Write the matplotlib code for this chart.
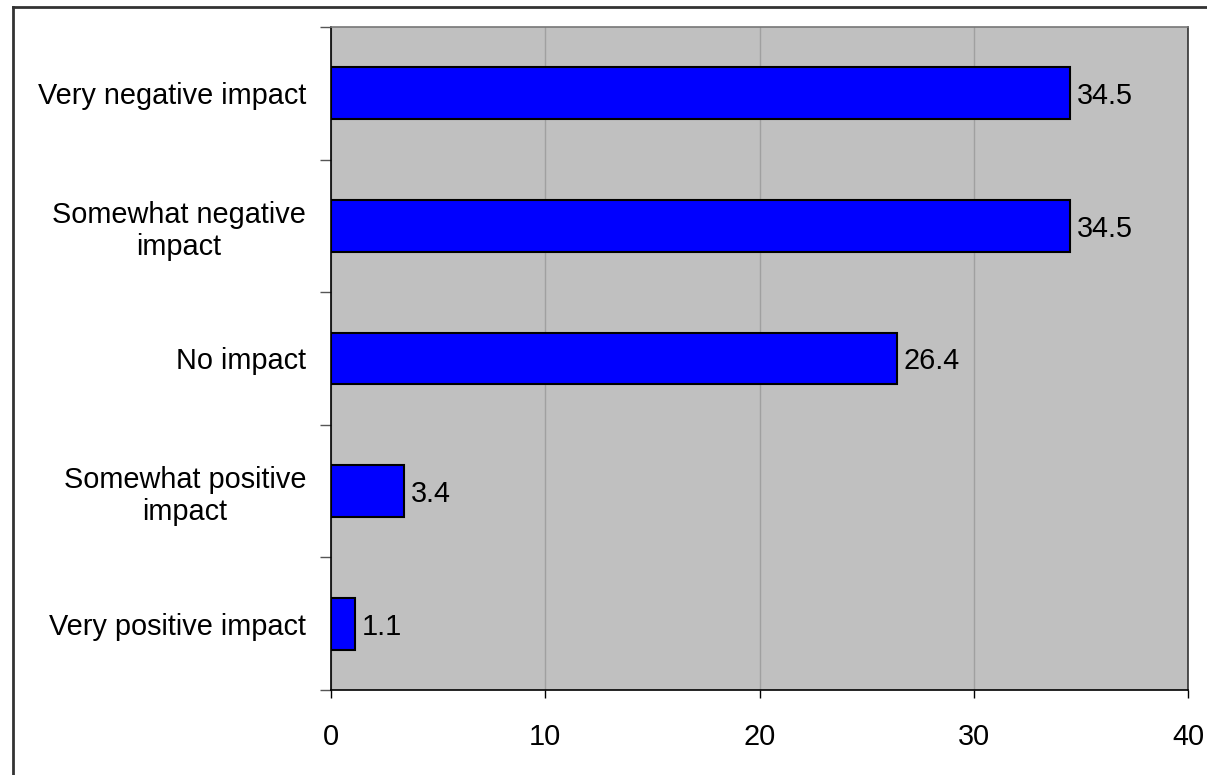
import numpy as np
import matplotlib.pyplot as plt
from matplotlib.lines import Line2D
from matplotlib.ticker import FixedLocator

#categories, top to bottom as on the chart
categories = ["Very negative impact", "Somewhat negative\nimpact", "No impact",
              "Somewhat positive\nimpact", "Very positive impact"]
values = [34.5, 34.5, 26.4, 3.4, 1.1]
xticks = [0, 10, 20, 30, 40]

plt.rcParams['font.family'] = ['Liberation Sans', 'DejaVu Sans']
FS = 20.8

fig = plt.figure(figsize=(12.07, 7.75), dpi=100)
ax = fig.add_axes([331 / 1207, 85 / 775, 857 / 1207, 663 / 775])

ypos = np.arange(len(categories))
bars = ax.barh(ypos, values, height=0.39, color='#0000FF', edgecolor='black',
               linewidth=1.5, zorder=3)

#value labels next to each bar
for b, v in zip(bars, values):
    ax.annotate(f"{v:.1f}", (b.get_width(), b.get_y() + b.get_height() / 2),
                xytext=(5, 0), textcoords='offset points', va='center_baseline',
                ha='left', fontsize=FS)

ax.set_facecolor('#C0C0C0')
ax.set_xlim(0, 40)
ax.set_ylim(len(categories) - 0.5, -0.5)
ax.set_xticks(xticks)
ax.tick_params(axis='x', labelsize=FS, length=6, width=1, pad=18, direction='out')
ax.xaxis.grid(True, color='#A0A0A0', linewidth=1, zorder=0)

ax.set_yticks(ypos)
ax.set_yticklabels(categories, multialignment='center')
ax.tick_params(axis='y', which='major', labelsize=FS, length=0, pad=18)
ax.yaxis.set_minor_locator(FixedLocator(np.arange(-0.5, len(categories), 1)))
ax.tick_params(axis='y', which='minor', length=8, width=1, color='#555555')

ax.spines['left'].set_color('black')
ax.spines['bottom'].set_color('black')
ax.spines['top'].set_color('#777777')
ax.spines['right'].set_color('#333333')
for s in ax.spines.values():
    s.set_linewidth(1.2)

#outer border of the chart (left and top edges only are visible)
fig.add_artist(Line2D([12.5 / 1207, 12.5 / 1207], [0, 1 - 7 / 775], color='#333333',
                      linewidth=2, transform=fig.transFigure))
fig.add_artist(Line2D([12.5 / 1207, 1], [1 - 7 / 775, 1 - 7 / 775], color='#333333',
                      linewidth=2, transform=fig.transFigure))

plt.savefig('out.png', dpi=100)
